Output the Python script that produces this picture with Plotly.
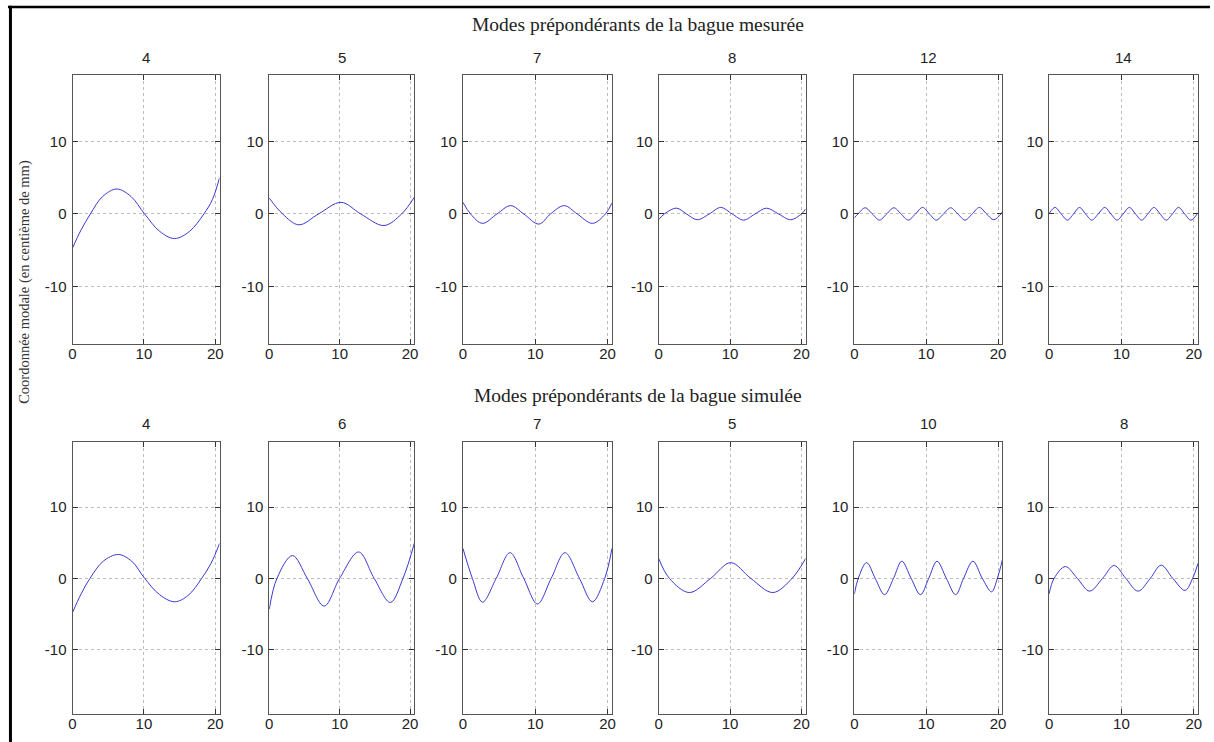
import plotly.graph_objects as go
from plotly.subplots import make_subplots

# ---------------- data ----------------
titre_mesuree = "Modes prépondérants de la bague mesurée"
titre_simulee = "Modes prépondérants de la bague simulée"
label_y = "Coordonnée modale (en centième de mm)"

modes_mesuree = ["4", "5", "7", "8", "12", "14"]
modes_simulee = ["4", "6", "7", "5", "10", "8"]

x_ticks = [0, 10, 20]
x_tick_labels = ["0", "10", "20"]
y_ticks = [-10, 0, 10]
y_tick_labels = ["-10", "0", "10"]
x_range = [0, 20.6]
y_range_mesuree = [-17.9, 19.2]
y_range_simulee = [-19.0, 19.2]

# measured ring
mes4_x = [0, 1.2, 2.5, 4.2, 6.2, 8.2, 10.1, 12.2, 14.3, 16.4, 18.4, 19.6, 20.6]
mes4_y = [-4.7, -2.2, 0, 2.4, 3.45, 2.4, 0, -2.4, -3.4, -2.4, 0, 2.0, 5.0]
mes5_x = [0, 1.9, 4.2, 7.0, 10.2, 13.0, 16.3, 18.8, 20.6]
mes5_y = [2.2, 0, -1.5, 0, 1.6, 0, -1.6, 0, 2.3]
mes7_x = [0, 1.05, 2.7, 4.7, 6.6, 8.4, 10.5, 12.1, 14.0, 15.8, 17.9, 19.7, 20.6]
mes7_y = [1.6, 0, -1.3, 0, 1.15, 0, -1.4, 0, 1.15, 0, -1.3, 0, 1.5]
mes8_x = [0, 0.8, 2.5, 3.9, 5.4, 7.1, 8.7, 10.3, 11.9, 13.5, 15.1, 16.8, 18.5, 20.0, 20.6]
mes8_y = [-0.8, 0, 0.8, 0, -0.8, 0, 0.9, 0, -0.85, 0, 0.8, 0, -0.8, 0, 0.7]
mes12_x = [0, 0.5, 1.5, 2.5, 3.5, 4.5, 5.5, 6.5, 7.5, 8.5, 9.5, 10.45, 11.4,
           12.4, 13.4, 14.4, 15.4, 16.4, 17.4, 18.4, 19.4, 20.4, 20.6]
mes12_y = [-0.55, 0, 0.85, 0, -0.85, 0, 0.85, 0, -0.85, 0, 0.9, 0, -0.85,
           0, 0.85, 0, -0.85, 0, 0.9, 0, -0.8, 0, 0.3]
mes14_x = [0, 0.83, 1.68, 2.54, 3.38, 4.2, 5.05, 5.9, 6.8, 7.7, 8.55, 9.4, 10.25,
           11.1, 11.95, 12.8, 13.65, 14.5, 15.35, 16.2, 17.05, 17.9, 18.75, 19.6, 20.6]
mes14_y = [0.05, 0.9, 0, -0.85, 0, 0.9, 0, -0.85, 0, 0.9, 0, -0.85, 0,
           0.9, 0, -0.85, 0, 0.9, 0, -0.85, 0, 0.9, 0, -0.85, 0.2]

# simulated ring
sim4_x = [0, 1.2, 2.45, 4.3, 6.4, 8.3, 10.1, 12.2, 14.3, 16.2, 18.1, 19.4, 20.6]
sim4_y = [-4.8, -2.2, 0, 2.4, 3.35, 2.4, 0, -2.3, -3.3, -2.4, 0, 2.1, 4.9]
sim6_x = [0, 1.1, 3.3, 5.4, 7.8, 10.0, 12.7, 14.9, 17.2, 19.0, 20.6]
sim6_y = [-4.35, 0, 3.2, 0, -3.9, 0, 3.7, 0, -3.4, 0, 4.9]
sim7_x = [0, 1.3, 2.7, 4.6, 6.5, 8.4, 10.3, 12.2, 14.1, 16.1, 17.9, 19.6, 20.6]
sim7_y = [4.2, 0, -3.35, 0, 3.6, 0, -3.6, 0, 3.6, 0, -3.3, 0, 4.2]
sim5_x = [0, 1.5, 4.3, 7.3, 10.1, 12.9, 16.0, 18.7, 20.6]
sim5_y = [2.8, 0, -2.0, 0, 2.2, 0, -2.0, 0, 2.8]
sim10_x = [0, 0.55, 1.7, 2.9, 4.2, 5.45, 6.6, 7.9, 9.2, 10.35, 11.5, 12.8,
           14.1, 15.2, 16.5, 17.8, 19.1, 19.9, 20.6]
sim10_y = [-2.2, 0, 2.2, 0, -2.3, 0, 2.4, 0, -2.3, 0, 2.4, 0,
           -2.3, 0, 2.4, 0, -1.9, 0, 2.6]
sim8_x = [0, 0.7, 2.25, 3.9, 5.6, 7.4, 9.0, 10.6, 12.3, 14.0, 15.5, 17.1, 18.8, 19.85, 20.6]
sim8_y = [-2.2, 0, 1.65, 0, -1.8, 0, 1.8, 0, -1.8, 0, 1.85, 0, -1.7, 0, 2.1]

series_mesuree = [(mes4_x, mes4_y), (mes5_x, mes5_y), (mes7_x, mes7_y),
                  (mes8_x, mes8_y), (mes12_x, mes12_y), (mes14_x, mes14_y)]
series_simulee = [(sim4_x, sim4_y), (sim6_x, sim6_y), (sim7_x, sim7_y),
                  (sim5_x, sim5_y), (sim10_x, sim10_y), (sim8_x, sim8_y)]

# ---------------- layout (pixels) ----------------
W, H = 1214, 742
col_px = [(69, 217), (267, 413), (462, 612), (659, 807), (856, 1005), (1052, 1202)]
row_px = [(75, 343.5), (441.7, 713.5)]

SANS = "Liberation Sans, Arial, Helvetica, sans-serif"
SERIF = "Liberation Serif, Times New Roman, serif"
LINE_COL = "#3838d0"
AX_COL = "#555555"

fig = make_subplots(rows=2, cols=6)

annotations = []
for r, (series, titles, yr) in enumerate([(series_mesuree, modes_mesuree, y_range_mesuree),
                                          (series_simulee, modes_simulee, y_range_simulee)]):
    top, bot = row_px[r]
    for c in range(6):
        xs, ys = series[c]
        fig.add_trace(go.Scatter(x=xs, y=ys, mode="lines",
                                 line=dict(color=LINE_COL, width=1, shape="spline", smoothing=1.0),
                                 showlegend=False, hoverinfo="skip"),
                      row=r + 1, col=c + 1)
        L, R = col_px[c]
        fig.update_xaxes(domain=[L / W, R / W], range=x_range,
                         tickvals=x_ticks, ticktext=x_tick_labels,
                         ticks="inside", ticklen=5, tickcolor="#333", tickwidth=1,
                         showline=True, linecolor=AX_COL, linewidth=1, mirror="ticks",
                         showgrid=True, gridcolor="#bdbdbd", griddash="dot", gridwidth=1,
                         zeroline=False, ticklabelstandoff=-4,
                         tickfont=dict(family=SANS, size=15, color="#222"),
                         row=r + 1, col=c + 1)
        fig.update_yaxes(domain=[1 - bot / H, 1 - top / H], range=yr,
                         tickvals=y_ticks, ticktext=y_tick_labels,
                         ticks="inside", ticklen=5, tickcolor="#333", tickwidth=1,
                         showline=True, linecolor=AX_COL, linewidth=1, mirror="ticks",
                         showgrid=True, gridcolor="#bdbdbd", griddash="dot", gridwidth=1,
                         zeroline=False, ticklabelstandoff=2,
                         tickfont=dict(family=SANS, size=15, color="#222"),
                         row=r + 1, col=c + 1)
        annotations.append(dict(text=titles[c], x=(L + R) / 2 / W, y=1 - (top - 18) / H,
                                xref="paper", yref="paper", xanchor="center", yanchor="middle",
                                showarrow=False, font=dict(family=SANS, size=15, color="#222")))

annotations.append(dict(text=titre_mesuree, x=638 / W, y=1 - 25 / H, xref="paper", yref="paper",
                        xanchor="center", yanchor="middle", showarrow=False,
                        font=dict(family=SERIF, size=19.5, color="#222")))
annotations.append(dict(text=titre_simulee, x=638 / W, y=1 - 395 / H, xref="paper", yref="paper",
                        xanchor="center", yanchor="middle", showarrow=False,
                        font=dict(family=SERIF, size=19.5, color="#222")))
annotations.append(dict(text=label_y, x=20 / W, y=1 - 282 / H, xref="paper", yref="paper",
                        xanchor="center", yanchor="middle", showarrow=False, textangle=-90,
                        font=dict(family=SERIF, size=14.5, color="#333")))

shapes = [
    dict(type="line", xref="paper", yref="paper", x0=4 / W, x1=1, y0=1 - 7 / H, y1=1 - 7 / H,
         line=dict(color="black", width=2.5)),
    dict(type="line", xref="paper", yref="paper", x0=6.5 / W, x1=6.5 / W, y0=0, y1=1 - 5.8 / H,
         line=dict(color="black", width=3)),
]

fig.update_layout(width=W, height=H, margin=dict(l=0, r=0, t=0, b=0),
                  paper_bgcolor="white", plot_bgcolor="white",
                  annotations=annotations, shapes=shapes, showlegend=False)

fig.write_html("out.html", config={"displayModeBar": False},
               post_script="document.body.style.margin='0px';document.body.style.overflow='hidden';")
